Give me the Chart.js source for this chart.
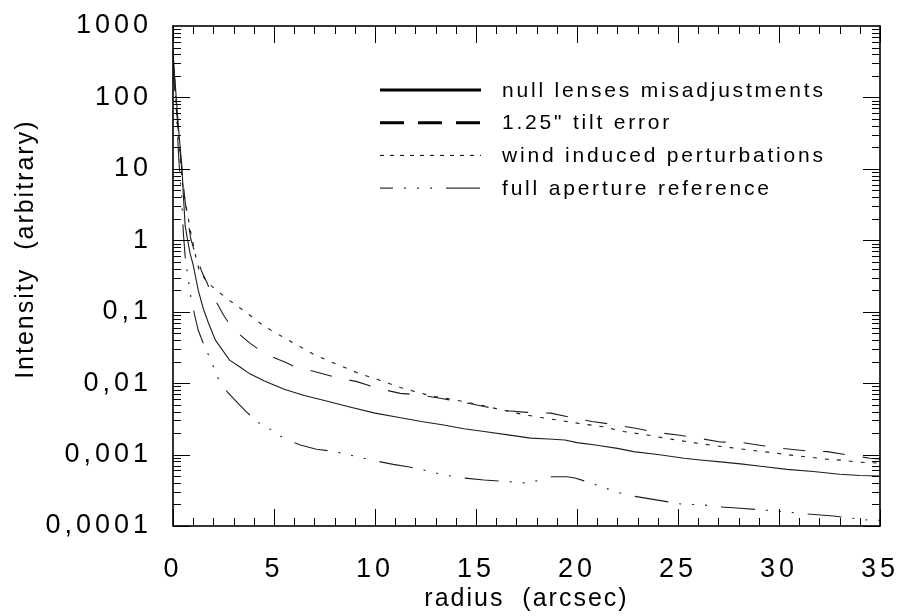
<!DOCTYPE html>
<html>
<head>
<meta charset="utf-8">
<script src="https://cdn.jsdelivr.net/npm/chart.js@4.4.1/dist/chart.umd.min.js"></script>
<style>
  body { margin: 0; background: #fff; }
  canvas { display: block; }
</style>
</head>
<body>
<canvas id="myChart" width="903" height="616"></canvas>
<script>
// radius (arcsec) / intensity pairs
const nullR = [0, 0.1, 0.2, 0.3, 0.45, 0.5, 0.6, 0.7, 0.85, 1.0, 1.25, 1.5, 1.75, 2.1, 2.8, 3.3, 3.8, 4.5, 5, 5.5, 6.5, 7.5, 8.8, 10, 11.2, 12.3, 13.4, 14.4, 15.4, 16.5, 17.7, 18.6, 19.4, 20, 21, 22, 22.8, 24, 25.3, 26.1, 27.1, 28.1, 29.2, 30.4, 31.7, 33, 34, 35];
const nullI = [350, 170, 70, 30, 10, 5, 1.6, 1.1, 0.65, 0.45, 0.2, 0.11, 0.07, 0.04, 0.021, 0.017, 0.0135, 0.0108, 0.0094, 0.0082, 0.0067, 0.0057, 0.0046, 0.0038, 0.0033, 0.0029, 0.0026, 0.0023, 0.0021, 0.0019, 0.0017, 0.00165, 0.0016, 0.00147, 0.00135, 0.00122, 0.0011, 0.001, 0.00089, 0.00084, 0.00079, 0.00074, 0.00068, 0.00062, 0.00058, 0.00053, 0.00051, 0.0005];

const tiltR = [0, 0.1, 0.2, 0.3, 0.45, 0.6, 0.75, 0.88, 1.0, 1.25, 1.45, 1.67, 1.9, 2.2, 2.5, 2.83, 3.3, 3.82, 4.3, 4.9, 5.5, 5.96, 6.5, 7.04, 8.03, 9.1, 10.1, 11.25, 12.25, 13.3, 14.5, 15.4, 16.6, 17.5, 18.7, 19.75, 20.75, 21.75, 22.9, 23.9, 25, 26, 27.1, 28.2, 29.2, 30.2, 31.3, 32.4, 33.4, 34.5, 35];
const tiltI = [250, 120, 55, 25, 9, 3.5, 1.8, 1.05, 0.8, 0.5, 0.35, 0.26, 0.18, 0.128, 0.09, 0.065, 0.048, 0.036, 0.029, 0.0234, 0.02, 0.0174, 0.016, 0.0144, 0.0121, 0.0105, 0.0085, 0.0072, 0.0068, 0.0061, 0.0053, 0.0047, 0.0041, 0.0039, 0.0038, 0.0033, 0.0029, 0.00265, 0.00233, 0.00205, 0.00188, 0.0017, 0.0015, 0.00147, 0.00133, 0.00122, 0.00113, 0.0011, 0.00099, 0.00089, 0.00087];

const windR = [0, 0.1, 0.2, 0.3, 0.45, 0.6, 0.7, 0.9, 1.17, 1.3, 1.6, 1.9, 2.25, 2.83, 3.24, 3.9, 4.4, 5, 6, 7, 8.1, 9.2, 10.2, 11.25, 12.8, 14, 15, 16, 17, 18.2, 19.2, 20.2, 21.3, 22.3, 23.5, 24.5, 25.5, 26.6, 27.6, 28.6, 29.7, 30.5, 31.5, 32.4, 33.2, 34, 35];
const windI = [300, 130, 50, 20, 7, 3.5, 2.5, 1.2, 0.52, 0.38, 0.28, 0.23, 0.19, 0.142, 0.117, 0.085, 0.066, 0.052, 0.036, 0.025, 0.0184, 0.0137, 0.0111, 0.0087, 0.0066, 0.0058, 0.0051, 0.0044, 0.0038, 0.0033, 0.003, 0.0027, 0.00245, 0.0021, 0.00188, 0.00167, 0.00151, 0.00136, 0.00125, 0.00115, 0.00106, 0.00099, 0.00092, 0.00086, 0.00083, 0.00078, 0.00076];

const refR = [0, 0.1, 0.2, 0.3, 0.43, 0.51, 0.6, 0.76, 0.9, 1.09, 1.25, 1.47, 1.75, 2.0, 2.33, 2.7, 3.07, 3.62, 4.23, 5.0, 5.55, 6.3, 7.1, 8.0, 9.0, 9.8, 10.9, 11.7, 12.5, 13.4, 14.4, 15.4, 16.5, 17.5, 18.2, 18.75, 19.5, 19.9, 20.7, 21.8, 22.5, 24, 25.3, 26.1, 27, 28.1, 29.5, 31.1, 32.7, 34.4, 35];
const refI = [450, 150, 40, 12, 4.1, 1.3, 0.6, 0.28, 0.15, 0.085, 0.055, 0.038, 0.025, 0.017, 0.01, 0.0075, 0.0058, 0.004, 0.0028, 0.0021, 0.00164, 0.00136, 0.00119, 0.0011, 0.00095, 0.00084, 0.00073, 0.00067, 0.0006, 0.00052, 0.00047, 0.00044, 0.00042, 0.0004, 0.00044, 0.00049, 0.00049, 0.00047, 0.0004, 0.00031, 0.00027, 0.00023, 0.0002, 0.0002, 0.000186, 0.000177, 0.000165, 0.00015, 0.000138, 0.000121, 0.00012];

const seriesLabels = ['null lenses misadjustments', '1.25" tilt error', 'wind induced perturbations', 'full aperture reference'];

const lineColor = '#1e1e1e';
const plotDash = [[], [22, 18], [4, 8], [34, 11, 2, 11, 2, 11, 2, 14]];
const legendStyle = [
    { width: 3, dash: [], offset: 0 },
    { width: 3, dash: [24, 14], offset: 0 },
    { width: 1, dash: [4, 6], offset: 0 },
    { width: 1, dash: [34, 11, 2, 11, 2, 11, 2, 14], offset: 21 }
];

const toPoints = (rs, vs) => rs.map((r, i) => ({ x: r, y: vs[i] }));
const allSeries = [[nullR, nullI], [tiltR, tiltI], [windR, windI], [refR, refI]];

Chart.defaults.font.family = '"Liberation Sans", Arial, sans-serif';
Chart.defaults.color = '#000';

// per-element letter spacing (ticks are spaced wider than titles)
const spacing = {
    id: 'spacing',
    beforeDraw(chart) {
        Object.values(chart.scales).forEach(s => {
            if (s.spaced) return;
            const drawTitle = s.drawTitle, drawLabels = s.drawLabels;
            s.drawTitle = function () { chart.ctx.letterSpacing = '2px'; drawTitle.apply(this, arguments); chart.ctx.letterSpacing = '0px'; };
            s.drawLabels = function () { chart.ctx.letterSpacing = '4px'; drawLabels.apply(this, arguments); chart.ctx.letterSpacing = '0px'; };
            s.spaced = true;
        });
    }
};

// box frame with inward ticks on all four sides
const frame = {
    id: 'frame',
    afterDatasetsDraw(chart) {
        const { ctx, chartArea: a, scales: { x, y } } = chart;
        ctx.save();
        ctx.strokeStyle = '#000';
        ctx.lineWidth = 1;
        ctx.beginPath();
        for (let r = x.min; r <= x.max; r++) {
            const px = Math.round(x.getPixelForValue(r)) + 0.5;
            const len = r % 5 === 0 ? 17 : 8;
            ctx.moveTo(px, a.bottom); ctx.lineTo(px, a.bottom - len);
            ctx.moveTo(px, a.top); ctx.lineTo(px, a.top + len);
        }
        const e0 = Math.round(Math.log10(y.min)), e1 = Math.round(Math.log10(y.max));
        for (let e = e0; e < e1; e++) {
            for (let k = 1; k < 10; k++) {
                const py = Math.round(y.getPixelForValue(k * Math.pow(10, e))) + 0.5;
                const len = k === 1 ? 17 : 8;
                ctx.moveTo(a.left, py); ctx.lineTo(a.left + len, py);
                ctx.moveTo(a.right, py); ctx.lineTo(a.right - len, py);
            }
        }
        ctx.stroke();
        ctx.lineWidth = 1.6;
        ctx.strokeRect(a.left, a.top, a.right - a.left, a.bottom - a.top);
        ctx.restore();
    }
};

// legend drawn inside the plot, upper right
const legendBox = {
    id: 'legendBox',
    afterDraw(chart) {
        const ctx = chart.ctx;
        ctx.save();
        ctx.strokeStyle = '#000';
        ctx.fillStyle = '#000';
        ctx.letterSpacing = '2.8px';
        ctx.font = '21px "Liberation Sans", Arial, sans-serif';
        ctx.textBaseline = 'middle';
        chart.data.datasets.forEach((ds, i) => {
            const st = legendStyle[i];
            const yy = 90 + i * 32.7;
            ctx.lineWidth = st.width;
            ctx.setLineDash(st.dash);
            ctx.lineDashOffset = st.offset;
            ctx.beginPath();
            ctx.moveTo(380, yy);
            ctx.lineTo(481, yy);
            ctx.stroke();
            ctx.setLineDash([]);
            ctx.fillText(ds.label, 502, yy + 1);
        });
        ctx.restore();
    }
};

const isDecade = v => Math.abs(Math.log10(v) - Math.round(Math.log10(v))) < 1e-9;

const ctx = document.getElementById('myChart').getContext('2d');
const myChart = new Chart(ctx, {
    type: 'line',
    data: {
        datasets: allSeries.map(([rs, vs], i) => ({
            label: seriesLabels[i],
            data: toPoints(rs, vs),
            borderColor: lineColor,
            borderWidth: 1.1,
            borderDash: plotDash[i],
            pointRadius: 0,
            tension: 0,
            fill: false
        }))
    },
    options: {
        responsive: false,
        animation: false,
        events: [],
        layout: { padding: { top: 26, right: 23, left: 0, bottom: 0 } },
        plugins: {
            legend: { display: false },
            tooltip: { enabled: false }
        },
        scales: {
            x: {
                type: 'linear',
                min: 0,
                max: 35,
                afterFit: s => { s.height = 90; s.paddingLeft = 0; s.paddingRight = 0; },
                grid: { display: false, drawTicks: false },
                border: { display: false },
                ticks: {
                    stepSize: 5,
                    padding: 27,
                    maxRotation: 0,
                    autoSkip: false,
                    font: { size: 27 },
                    callback: v => String(v)
                },
                title: {
                    display: true,
                    text: 'radius  (arcsec)',
                    font: { size: 25 },
                    padding: { top: 0, bottom: 2 }
                }
            },
            y: {
                type: 'logarithmic',
                min: 0.0001,
                max: 1000,
                afterFit: s => { s.width = 173; s.paddingTop = 0; s.paddingBottom = 0; },
                grid: { display: false, drawTicks: false },
                border: { display: false },
                ticks: {
                    padding: 21,
                    autoSkip: false,
                    font: { size: 27 },
                    callback: v => isDecade(v) ? String(Math.pow(10, Math.round(Math.log10(v)))).replace('.', ',') : ''
                },
                title: {
                    display: true,
                    text: '      Intensity  (arbitrary)',
                    font: { size: 25 },
                    padding: { top: 11, bottom: 0 }
                }
            }
        }
    },
    plugins: [spacing, frame, legendBox]
});
</script>
</body>
</html>
